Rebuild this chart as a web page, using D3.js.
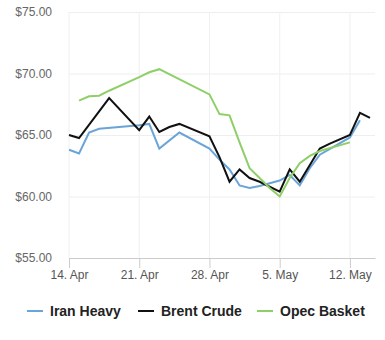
<!DOCTYPE html>
<html>
<head>
<meta charset="utf-8">
<script src="https://cdn.jsdelivr.net/npm/d3@7"></script>
<style>
  body { margin: 0; background: #fff; }
  svg { font-family: "Liberation Sans", Arial, sans-serif; }
</style>
</head>
<body>
<div id="container"></div>
<script>
/* CONSTANTS AND GLOBALS */
const width = 385;
const height = 340;

// tick labels
const yTicks = [55, 60, 65, 70, 75];
const xTicks = ["2019-04-14", "2019-04-21", "2019-04-28", "2019-05-05", "2019-05-12"];

// series
const iranDates = ["2019-04-14", "2019-04-15", "2019-04-16", "2019-04-17", "2019-04-21", "2019-04-22", "2019-04-23", "2019-04-25",
  "2019-04-28", "2019-04-29", "2019-04-30", "2019-05-01", "2019-05-02", "2019-05-03", "2019-05-05", "2019-05-06",
  "2019-05-07", "2019-05-08", "2019-05-09", "2019-05-12", "2019-05-13"];
const iranValues = [63.8, 63.5, 65.2, 65.5, 65.8, 65.9, 63.9, 65.2,
  63.9, 63.0, 62.2, 60.9, 60.7, 60.85, 61.3, 61.75,
  60.9, 62.3, 63.4, 64.8, 66.2];

const brentDates = ["2019-04-14", "2019-04-15", "2019-04-18", "2019-04-21", "2019-04-22", "2019-04-23", "2019-04-24", "2019-04-25",
  "2019-04-28", "2019-04-29", "2019-04-30", "2019-05-01", "2019-05-02", "2019-05-03", "2019-05-05", "2019-05-06",
  "2019-05-07", "2019-05-09", "2019-05-10", "2019-05-12", "2019-05-13", "2019-05-14"];
const brentValues = [65.0, 64.75, 68.0, 65.4, 66.5, 65.25, 65.65, 65.9,
  64.9, 63.2, 61.2, 62.2, 61.5, 61.2, 60.4, 62.2,
  61.2, 63.9, 64.3, 65.0, 66.8, 66.4];

const opecDates = ["2019-04-15", "2019-04-16", "2019-04-17", "2019-04-18", "2019-04-21", "2019-04-22", "2019-04-23",
  "2019-04-28", "2019-04-29", "2019-04-30", "2019-05-01", "2019-05-02", "2019-05-03", "2019-05-04", "2019-05-05",
  "2019-05-06", "2019-05-07", "2019-05-08", "2019-05-09", "2019-05-12"];
const opecValues = [67.8, 68.15, 68.2, 68.6, 69.7, 70.1, 70.35,
  68.3, 66.7, 66.6, 64.4, 62.3, 61.5, 60.7, 60.0,
  61.5, 62.7, 63.3, 63.7, 64.4];

const seriesNames = ["Iran Heavy", "Brent Crude", "Opec Basket"];
const seriesColors = ["#6aa4d8", "#111111", "#8fcf68"];

const parse = d3.utcParse("%Y-%m-%d");
const series = [
  { name: seriesNames[0], color: seriesColors[0], points: iranDates.map((d, i) => ({ date: parse(d), value: iranValues[i] })) },
  { name: seriesNames[1], color: seriesColors[1], points: brentDates.map((d, i) => ({ date: parse(d), value: brentValues[i] })) },
  { name: seriesNames[2], color: seriesColors[2], points: opecDates.map((d, i) => ({ date: parse(d), value: opecValues[i] })) }
];

/* SCALES */
const plotLeft = 69, plotRight = 375, plotTop = 12, plotBottom = 258;

const xScale = d3.scaleUtc()
  .domain([parse("2019-04-14"), d3.utcHour.offset(parse("2019-05-14"), 12)])
  .range([plotLeft, plotRight]);

const yScale = d3.scaleLinear()
  .domain([55, 75])
  .range([plotBottom, plotTop]);

/* HTML ELEMENTS */
const svg = d3.select("#container")
  .append("svg")
  .attr("width", width)
  .attr("height", height);

// horizontal grid + y labels
const yAxis = svg.append("g")
  .attr("transform", `translate(${plotLeft},0)`)
  .call(d3.axisLeft(yScale)
    .tickValues(yTicks)
    .tickSize(-(plotRight - plotLeft))
    .tickPadding(17)
    .tickFormat(d => "$" + d.toFixed(2)));
yAxis.select(".domain").remove();
yAxis.selectAll(".tick line").attr("stroke", "#eeeeee");
yAxis.selectAll(".tick text")
  .attr("fill", "#666")
  .style("font-size", "12px");

// vertical grid
svg.append("g")
  .selectAll("line")
  .data(xTicks.map(parse))
  .join("line")
  .attr("x1", d => xScale(d))
  .attr("x2", d => xScale(d))
  .attr("y1", plotTop)
  .attr("y2", plotBottom)
  .attr("stroke", "#f0f0f0");

// x axis
const xAxis = svg.append("g")
  .attr("transform", `translate(0,${plotBottom})`)
  .call(d3.axisBottom(xScale)
    .tickValues(xTicks.map(parse))
    .tickSize(10)
    .tickPadding(2)
    .tickSizeOuter(0)
    .tickFormat(d3.utcFormat("%-d. %b")));
xAxis.select(".domain").attr("stroke", "#cccccc");
xAxis.selectAll(".tick line").attr("stroke", "#cccccc");
xAxis.selectAll(".tick text")
  .attr("fill", "#555")
  .style("font-size", "12px");

// lines
const line = d3.line()
  .x(d => xScale(d.date))
  .y(d => yScale(d.value));

svg.append("g")
  .selectAll("path")
  .data(series)
  .join("path")
  .attr("d", d => line(d.points))
  .attr("fill", "none")
  .attr("stroke", d => d.color)
  .attr("stroke-width", 2)
  .attr("stroke-linejoin", "miter");

// legend
const legendX = [27, 138, 257];
const legend = svg.append("g")
  .selectAll("g")
  .data(series)
  .join("g")
  .attr("transform", (d, i) => `translate(${legendX[i]},311)`);

legend.append("line")
  .attr("x1", 0)
  .attr("x2", 16)
  .attr("stroke", d => d.color)
  .attr("stroke-width", 2);

legend.append("text")
  .attr("x", 23)
  .attr("dy", "0.35em")
  .text(d => d.name)
  .style("font-size", "14px")
  .style("font-weight", "bold")
  .style("fill", "#222");
</script>
</body>
</html>
